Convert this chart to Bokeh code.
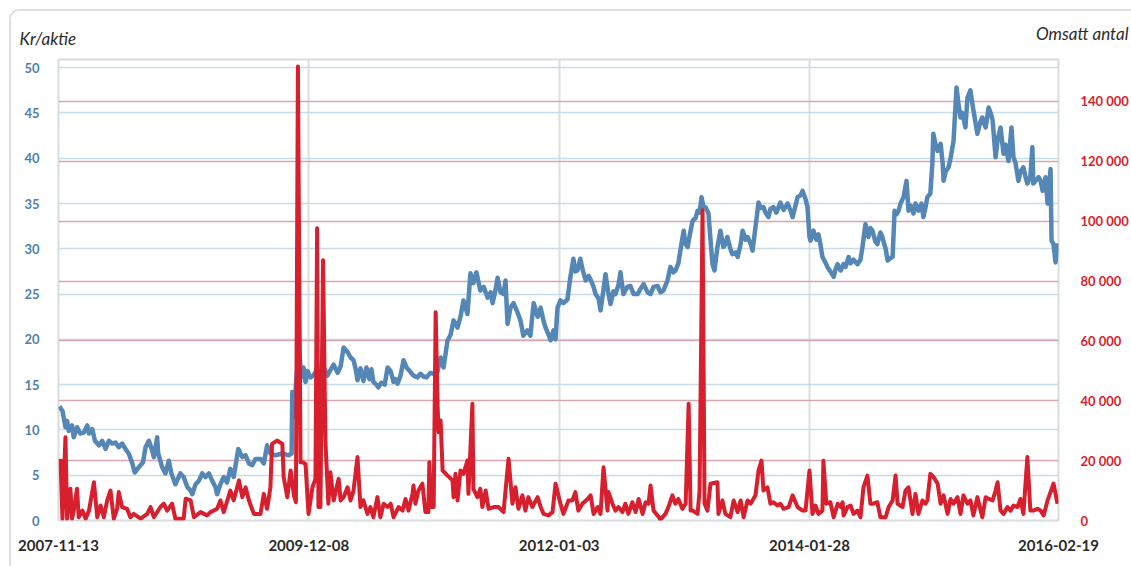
import pandas as pd
from bokeh.plotting import figure
from bokeh.models import (Range1d, LinearAxis, FixedTicker, DatetimeTickFormatter, Grid,
                          Title, InlineStyleSheet)
from bokeh.embed import file_html
from bokeh.resources import INLINE

# ---------------- data ----------------
start_date = "2007-11-13"
end_date = "2016-02-19"

# Kr/aktie: day number since start_date, price
price_day = [
    3, 12, 21, 26, 31, 41, 46, 56, 66, 76,
    87, 92, 102, 110, 122, 132, 142, 152, 162, 172,
    182, 192, 202, 212, 223, 230, 243, 255, 263, 273,
    283, 288, 298, 301, 313, 323, 333, 341, 353, 368,
    378, 389, 399, 404, 414, 424, 434, 444, 454, 464,
    474, 479, 489, 499, 509, 519, 529, 543, 555, 565,
    575, 585, 595, 610, 620, 630, 640, 655, 676, 695,
    704, 706, 711, 718, 726, 734, 740, 746, 752, 761,
    770, 782, 791, 800, 812, 821, 831, 843, 852, 861,
    873, 882, 891, 897, 903, 912, 921, 930, 939, 945,
    951, 960, 966, 975, 985, 994, 1003, 1012, 1018, 1024,
    1033, 1042, 1051, 1063, 1072, 1084, 1093, 1102, 1111, 1123,
    1133, 1145, 1154, 1163, 1175, 1184, 1193, 1205, 1214, 1223,
    1235, 1244, 1253, 1262, 1274, 1284, 1296, 1305, 1311, 1320,
    1326, 1335, 1344, 1350, 1356, 1365, 1374, 1386, 1395, 1404,
    1416, 1425, 1435, 1447, 1456, 1465, 1471, 1480, 1486, 1495,
    1501, 1507, 1516, 1525, 1537, 1546, 1555, 1561, 1567, 1576,
    1582, 1592, 1601, 1607, 1616, 1622, 1631, 1637, 1646, 1652,
    1661, 1667, 1676, 1682, 1691, 1697, 1706, 1718, 1727, 1737,
    1749, 1758, 1767, 1779, 1788, 1797, 1809, 1818, 1827, 1839,
    1848, 1857, 1863, 1872, 1878, 1888, 1894, 1900, 1909, 1915,
    1924, 1930, 1936, 1942, 1948, 1954, 1963, 1969, 1975, 1981,
    1990, 1999, 2008, 2014, 2020, 2029, 2035, 2045, 2051, 2060,
    2066, 2075, 2081, 2090, 2096, 2105, 2114, 2120, 2129, 2135,
    2144, 2150, 2159, 2168, 2180, 2190, 2202, 2211, 2217, 2226,
    2232, 2241, 2247, 2256, 2262, 2268, 2271, 2280, 2289, 2295,
    2301, 2307, 2316, 2322, 2331, 2341, 2347, 2353, 2362, 2371,
    2377, 2386, 2392, 2401, 2413, 2422, 2428, 2437, 2446, 2452,
    2458, 2467, 2473, 2482, 2488, 2498, 2504, 2513, 2519, 2525,
    2531, 2537, 2543, 2552, 2561, 2567, 2573, 2582, 2588, 2597,
    2606, 2612, 2618, 2624, 2633, 2639, 2642, 2649, 2655, 2664,
    2670, 2673, 2679, 2688, 2694, 2703, 2712, 2718, 2724, 2730,
    2739, 2745, 2754, 2760, 2763, 2769, 2775, 2784, 2790, 2800,
    2809, 2815, 2821, 2830, 2836, 2845, 2854, 2860, 2869, 2878,
    2884, 2890, 2899, 2905, 2914, 2920, 2926, 2935, 2941, 2944,
    2951, 2960, 2966, 2972, 2981, 2987, 2993, 2996, 2999, 3005,
    3011, 3017,
]
price = [
    12.6, 12.1, 10.3, 11.0, 9.9, 10.5, 9.2, 10.3, 9.6, 9.7,
    10.5, 9.6, 10.1, 8.8, 8.3, 8.8, 7.9, 8.8, 8.5, 8.6,
    8.1, 8.5, 7.9, 7.4, 6.3, 5.3, 5.9, 6.4, 8.1, 8.8,
    7.7, 7.0, 9.2, 7.4, 5.9, 5.2, 6.6, 5.2, 4.0, 5.2,
    4.8, 3.7, 3.3, 2.9, 4.0, 4.4, 5.2, 4.8, 5.2, 4.4,
    3.7, 2.9, 4.0, 4.8, 4.2, 5.7, 4.8, 7.9, 7.0, 7.2,
    6.3, 6.1, 6.8, 6.8, 6.3, 8.3, 7.4, 7.2, 7.4, 7.2,
    7.4, 14.2, 11.4, 15.5, 18.8, 15.8, 16.9, 15.3, 16.5, 15.8,
    16.0, 16.8, 15.6, 17.0, 16.0, 16.6, 17.2, 16.3, 17.0, 19.1,
    18.6, 18.0, 17.7, 16.8, 15.5, 16.8, 15.4, 16.9, 15.6, 16.7,
    15.3, 15.0, 14.7, 15.2, 15.0, 16.9, 16.5, 15.3, 15.6, 15.1,
    16.0, 17.7, 16.9, 16.4, 16.0, 15.8, 16.2, 15.9, 15.8, 16.3,
    16.2, 16.5, 18.0, 16.9, 19.9, 20.5, 22.1, 21.3, 22.5, 24.3,
    22.8, 27.3, 26.2, 27.4, 25.4, 25.8, 24.6, 25.2, 24.0, 25.5,
    26.8, 25.2, 25.0, 26.5, 21.7, 23.5, 24.0, 23.0, 22.1, 20.4,
    21.0, 20.4, 24.0, 22.5, 23.5, 22.0, 21.3, 20.5, 19.9, 21.0,
    20.0, 23.5, 24.3, 24.0, 24.4, 26.9, 28.9, 27.5, 27.6, 28.9,
    27.8, 26.5, 27.0, 26.6, 25.8, 25.0, 24.5, 23.2, 25.5, 27.2,
    25.0, 23.9, 25.3, 25.0, 26.0, 27.4, 25.0, 25.8, 25.9, 25.0,
    25.0, 25.6, 26.1, 25.2, 25.0, 25.8, 25.9, 25.2, 25.4, 26.5,
    28.0, 27.4, 27.6, 28.4, 29.8, 32.0, 30.5, 30.2, 32.0, 33.1,
    33.4, 34.2, 34.0, 35.7, 34.6, 34.6, 33.9, 31.0, 28.3, 27.6,
    30.2, 32.0, 30.2, 30.5, 31.3, 30.0, 29.4, 29.6, 29.1, 30.5,
    32.0, 31.0, 31.3, 30.6, 29.8, 32.4, 35.1, 34.5, 34.6, 34.0,
    33.5, 34.4, 34.6, 34.0, 35.1, 34.3, 35.0, 34.2, 33.5, 34.8,
    35.7, 35.9, 36.4, 35.5, 34.6, 31.3, 30.9, 32.0, 31.0, 31.6,
    30.5, 29.1, 28.5, 28.0, 27.5, 26.9, 27.8, 28.3, 27.6, 28.3,
    28.0, 29.1, 28.4, 28.8, 28.3, 28.8, 30.2, 32.7, 31.3, 32.3,
    32.0, 30.8, 30.5, 31.8, 31.3, 30.0, 28.7, 29.0, 29.1, 34.2,
    33.8, 34.2, 35.0, 35.7, 37.5, 34.2, 34.8, 33.9, 35.0, 34.2,
    35.0, 33.5, 34.5, 35.7, 36.1, 39.4, 42.7, 41.5, 40.8, 41.6,
    39.5, 37.5, 38.5, 39.0, 40.0, 41.9, 47.8, 46.0, 44.5, 45.0,
    43.4, 46.7, 47.5, 46.0, 45.3, 44.0, 42.7, 44.0, 44.5, 43.4,
    45.6, 45.0, 44.2, 40.1, 42.0, 43.4, 40.5, 41.5, 39.7, 43.4,
    40.1, 39.5, 37.5, 38.5, 39.0, 38.0, 37.2, 38.0, 41.2, 37.2,
    37.5, 37.9, 37.5, 36.4, 37.9, 35.0, 37.5, 38.8, 30.9, 30.5,
    28.5, 30.6,
]

# Omsatt antal: day number since start_date, volume
volume_day = [
    6, 12, 21, 26, 36, 41, 46, 56, 61, 72,
    82, 92, 107, 117, 127, 137, 147, 157, 167, 177,
    182, 192, 207, 217, 227, 248, 268, 278, 288, 308,
    318, 328, 343, 353, 378, 384, 399, 409, 429, 449,
    459, 479, 489, 499, 519, 529, 545, 555, 565, 575,
    590, 610, 620, 630, 640, 645, 660, 676, 680, 691,
    701, 711, 717, 723, 731, 737, 746, 755, 767, 776,
    781, 785, 791, 799, 806, 815, 821, 831, 846, 852,
    861, 873, 882, 891, 903, 912, 921, 933, 942, 951,
    963, 972, 982, 994, 1003, 1012, 1027, 1039, 1048, 1057,
    1069, 1072, 1078, 1087, 1099, 1108, 1117, 1120, 1126, 1133,
    1139, 1145, 1148, 1154, 1160, 1175, 1190, 1193, 1199, 1205,
    1214, 1223, 1235, 1238, 1250, 1253, 1265, 1274, 1280, 1290,
    1299, 1314, 1329, 1344, 1359, 1371, 1380, 1389, 1401, 1410,
    1419, 1431, 1447, 1456, 1465, 1480, 1492, 1501, 1516, 1525,
    1540, 1552, 1561, 1570, 1582, 1598, 1607, 1616, 1628, 1637,
    1646, 1658, 1661, 1673, 1682, 1691, 1703, 1712, 1721, 1733,
    1743, 1752, 1764, 1773, 1782, 1788, 1797, 1809, 1818, 1833,
    1842, 1854, 1863, 1872, 1884, 1894, 1903, 1909, 1915, 1930,
    1936, 1945, 1951, 1960, 1969, 1990, 1993, 2005, 2014, 2029,
    2039, 2051, 2060, 2069, 2081, 2090, 2105, 2114, 2123, 2129,
    2141, 2150, 2159, 2171, 2180, 2190, 2205, 2217, 2232, 2247,
    2256, 2268, 2277, 2286, 2295, 2307, 2310, 2319, 2331, 2341,
    2353, 2362, 2368, 2371, 2383, 2392, 2401, 2413, 2422, 2431,
    2443, 2452, 2461, 2473, 2482, 2498, 2507, 2519, 2528, 2534,
    2549, 2558, 2567, 2579, 2588, 2597, 2609, 2618, 2624, 2633,
    2643, 2655, 2664, 2673, 2685, 2694, 2703, 2715, 2724, 2733,
    2745, 2754, 2763, 2775, 2790, 2800, 2809, 2821, 2830, 2836,
    2845, 2854, 2866, 2875, 2884, 2896, 2905, 2914, 2926, 2935,
    2944, 2957, 2966, 2975, 2987, 3005, 3017,
]
volume = [
    20600, 600, 27800, 600, 10600, 600, 3300, 10600, 1100, 3300,
    600, 3300, 12800, 1100, 5000, 1100, 6700, 10000, 600, 3900,
    9500, 4500, 3900, 1100, 2200, 600, 2200, 4500, 1100, 4500,
    5600, 3300, 5600, 600, 600, 7300, 6700, 1100, 2800, 1700,
    2800, 3900, 6700, 2800, 10000, 6700, 13400, 7800, 11100, 6700,
    2200, 2200, 8900, 3900, 11100, 25600, 26700, 25600, 14500, 7800,
    16700, 8400, 6100, 151700, 19500, 19500, 18900, 2200, 11100, 13900,
    97600, 4500, 4500, 86900, 26700, 5600, 16100, 6700, 13900, 6700,
    7800, 11100, 6700, 10000, 21200, 4500, 6700, 2200, 4500, 1100,
    7800, 1100, 5600, 4500, 5600, 1100, 4500, 3300, 7200, 3300,
    8900, 11700, 5600, 10000, 12300, 2800, 2800, 19500, 4500, 4500,
    69600, 37900, 29500, 33400, 16700, 15000, 13400, 7800, 15600, 6700,
    16700, 15600, 20000, 8900, 39000, 10600, 7800, 10600, 4500, 10000,
    3900, 4500, 4500, 2800, 20600, 5600, 11100, 3900, 8400, 3300,
    7800, 4500, 7800, 4500, 2200, 1700, 2800, 12300, 5600, 2200,
    6700, 6700, 9500, 3300, 5600, 7200, 8400, 2200, 4500, 2200,
    17800, 3300, 9500, 5600, 3300, 4500, 2800, 5600, 2200, 6100,
    2800, 7200, 2200, 6100, 5600, 11700, 3300, 1700, 300, 2200,
    4500, 8400, 5600, 7200, 3900, 5600, 39000, 3300, 3300, 2200,
    10000, 103600, 5600, 3300, 12300, 12800, 2200, 6700, 2200, 1100,
    6700, 2800, 6700, 1100, 6700, 5600, 8400, 16700, 20000, 10000,
    11100, 5600, 6100, 5000, 5600, 3900, 4500, 8400, 4500, 3300,
    3300, 16700, 2200, 5000, 2200, 3300, 20000, 5600, 6100, 1100,
    5600, 4500, 6100, 1700, 4500, 5000, 2200, 3300, 1100, 11100,
    15000, 5600, 5600, 6100, 1100, 1100, 4500, 6700, 15000, 5600,
    4500, 10000, 11100, 2200, 8900, 2200, 6700, 5600, 6700, 15600,
    14500, 12300, 5600, 8400, 2200, 7200, 5600, 7800, 2200, 8400,
    5600, 6700, 1700, 7800, 1100, 7800, 7200, 6700, 10000, 12800,
    3300, 2200, 4500, 3300, 5000, 4500, 7200, 2200, 21200, 3300,
    3300, 3900, 3300, 1700, 6700, 12300, 5600,
]

date_ticks = ["2007-11-13", "2009-12-08", "2012-01-03", "2014-01-28", "2016-02-19"]
price_ticks = [0, 5, 10, 15, 20, 25, 30, 35, 40, 45, 50]
volume_ticks = [0, 20000, 40000, 60000, 80000, 100000, 120000, 140000]
volume_tick_labels = ["0", "20 000", "40 000", "60 000", "80 000", "100 000", "120 000", "140 000"]

left_title = "Kr/aktie"
right_title = "Omsatt antal"

# ---------------- build ----------------
t0 = pd.Timestamp(start_date)
t1 = pd.Timestamp(end_date)
price_dates = t0 + pd.to_timedelta(price_day, unit="D")
volume_dates = t0 + pd.to_timedelta(volume_day, unit="D")


def ms(ts):
    return pd.Timestamp(ts).value / 1e6


FONT = "Lato"
BLUE = "#5587b6"
RED = "#d71f2d"

W, H = 1131, 566
p = figure(
    width=W, height=H,
    x_axis_type="datetime",
    x_range=Range1d(ms(t0), ms(t1)),
    y_range=Range1d(0, 50.9),
    output_backend="svg", toolbar_location=None,
    min_border_left=58, min_border_right=73, min_border_top=59, min_border_bottom=46,
)
p.extra_y_ranges = {"vol": Range1d(0, 154000)}

p.outline_line_color = "#d9dcdc"
p.outline_line_width = 2
p.background_fill_color = "white"
p.border_fill_color = "white"

# rounded card border (top/left edges visible in the window)
p.stylesheets = [InlineStyleSheet(css="""
:host { position: relative; }
:host::after {
  content: ""; position: absolute; left: 9px; top: 9px; right: 0px; bottom: 0px;
  border-left: 2px solid #dcdfdf; border-top: 2px solid #dcdfdf;
  border-top-left-radius: 10px; pointer-events: none; z-index: 10;
}
""")]

# x axis
xt = FixedTicker(ticks=[ms(d) for d in date_ticks])
p.xaxis.ticker = xt
fmt = "%Y-%m-%d"
p.xaxis.formatter = DatetimeTickFormatter(
    milliseconds=fmt, seconds=fmt, minsec=fmt, minutes=fmt, hourmin=fmt, hours=fmt,
    days=fmt, months=fmt, years=fmt)
p.xaxis.axis_line_color = None
p.xaxis.major_tick_line_color = None
p.xaxis.minor_tick_line_color = None
p.xaxis.major_label_text_font = FONT
p.xaxis.major_label_text_font_style = "bold"
p.xaxis.major_label_text_font_size = "15px"
p.xaxis.major_label_text_color = "#2b2b2b"
p.xaxis.major_label_standoff = 13

p.xgrid.ticker = xt
p.xgrid.grid_line_color = "#dcdfdf"
p.xgrid.grid_line_width = 2

# left axis
yt = FixedTicker(ticks=price_ticks)
p.yaxis.ticker = yt
p.yaxis.axis_line_color = None
p.yaxis.major_tick_line_color = None
p.yaxis.minor_tick_line_color = None
p.yaxis.major_label_text_font = FONT
p.yaxis.major_label_text_font_style = "bold"
p.yaxis.major_label_text_font_size = "13px"
p.yaxis.major_label_text_color = "#4f80b2"
p.yaxis.major_label_standoff = 13
p.ygrid.ticker = yt
p.ygrid.grid_line_color = "#c8dbe8"
p.ygrid.grid_line_width = 1.5

# right axis
ra = LinearAxis(y_range_name="vol", ticker=FixedTicker(ticks=volume_ticks))
ra.major_label_overrides = {t: lab for t, lab in zip(volume_ticks, volume_tick_labels)}
ra.axis_line_color = None
ra.major_tick_line_color = None
ra.minor_tick_line_color = None
ra.major_label_text_font = FONT
ra.major_label_text_font_style = "bold"
ra.major_label_text_font_size = "13px"
ra.major_label_text_color = RED
ra.major_label_standoff = 16
p.add_layout(ra, "right")

rg = Grid(dimension=1, ticker=FixedTicker(ticks=volume_ticks), y_range_name="vol",
          grid_line_color="#d9a6b0", grid_line_width=1.5)
p.add_layout(rg)

# series
p.line(price_dates, price, line_color=BLUE, line_width=4.5, line_join="round")
p.line(volume_dates, volume, line_color=RED, line_width=4, line_join="round",
       y_range_name="vol")

# axis titles (as plot titles above the frame)
p.add_layout(Title(text=left_title, align="left", offset=-39, standoff=21,
                   text_font=FONT, text_font_style="italic", text_font_size="17px",
                   text_color="#2b2b2b"), "above")
p.add_layout(Title(text=right_title, align="right", offset=-70, standoff=-57,
                   text_font=FONT, text_font_style="italic", text_font_size="17px",
                   text_color="#2b2b2b"), "above")

open("out.html", "w").write(file_html(p, INLINE))
